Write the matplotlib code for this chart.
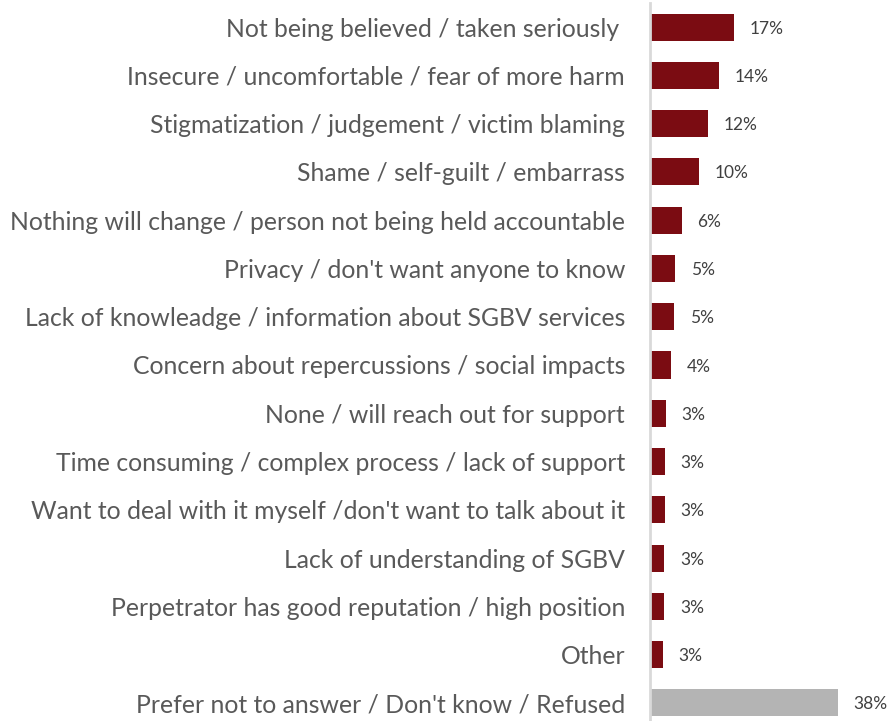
import matplotlib
matplotlib.use('Agg')
from matplotlib import pyplot as plt

# barriers to reporting, top to bottom
categories = [
    'Not being believed / taken seriously ',
    'Insecure / uncomfortable / fear of more harm',
    'Stigmatization / judgement / victim blaming',
    'Shame / self-guilt / embarrass',
    'Nothing will change / person not being held accountable',
    "Privacy / don't want anyone to know",
    'Lack of knowleadge / information about SGBV services',
    'Concern about repercussions / social impacts',
    'None / will reach out for support',
    'Time consuming / complex process / lack of support',
    "Want to deal with it myself /don't want to talk about it",
    'Lack of understanding of SGBV',
    'Perpetrator has good reputation / high position',
    'Other',
    "Prefer not to answer / Don't know / Refused",
]
values = [16.9, 13.9, 11.7, 9.9, 6.4, 5.0, 4.8, 4.2, 3.2, 3.0, 3.0, 2.9, 2.9, 2.6, 37.9]
value_labels = ['17%', '14%', '12%', '10%', '6%', '5%', '5%', '4%', '3%', '3%',
                '3%', '3%', '3%', '3%', '38%']

red = '#7b0c12'
grey = '#b4b4b4'
colors = [red] * (len(values) - 1) + [grey]

plt.rcParams['font.family'] = ['Lato', 'DejaVu Sans']

fig = plt.figure(figsize=(8.93, 7.21), dpi=100)
ax = fig.add_axes([650 / 893, 1 - 727 / 721, 240 / 893, 724 / 721])

ypos = list(range(len(values)))
ax.barh(ypos, values, height=0.56, color=colors, edgecolor='none')
ax.set_ylim(len(values) - 0.5, -0.5)
ax.set_xlim(0, 48.5)

for y, v, lab in zip(ypos, values, value_labels):
    ax.text(v + 3.2, y, lab, va='center_baseline', ha='left', fontsize=12.5, color='#404040')

ax.set_yticks(ypos)
ax.set_yticklabels(categories, fontsize=17.8, color='#595959')
ax.tick_params(axis='y', length=0, pad=18)
ax.set_xticks([])

for s in ['top', 'right', 'bottom']:
    ax.spines[s].set_visible(False)
ax.spines['left'].set_color('#d9d9d9')
ax.spines['left'].set_linewidth(2)

fig.savefig('out.png', dpi=100)
